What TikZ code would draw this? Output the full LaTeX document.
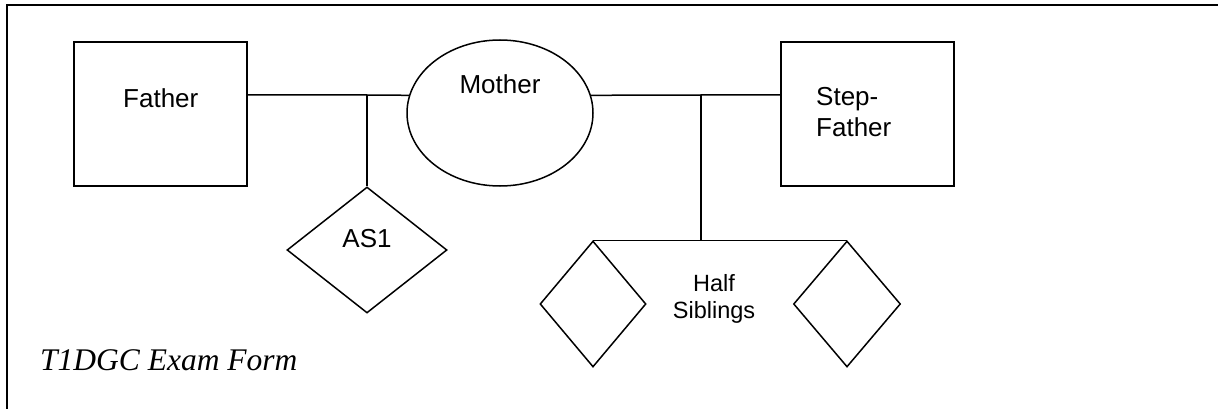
\documentclass[tikz,border=0pt]{standalone}
\usepackage{fontspec}
\usetikzlibrary{shapes.geometric}
\newfontfamily\arialf{Liberation Sans}
\newfontfamily\tnrf{Liberation Serif}
\tikzset{
  ln/.style={line width=1.5pt, draw=black},
  personbox/.style={ln, rectangle, inner sep=0pt, minimum width=173pt, minimum height=144pt},
  femaleshape/.style={ln, ellipse, inner sep=0pt, minimum width=186pt, minimum height=146pt},
  sibshape/.style={ln, diamond, inner sep=0pt},
  lbl/.style={inner sep=0pt, font=\arialf\fontsize{26}{31}\selectfont},
  slbl/.style={inner sep=0pt, font=\arialf\fontsize{23.5}{27}\selectfont},
}
\begin{document}
\begin{tikzpicture}[x=1pt, y=-1pt]
\useasboundingbox (0,0) rectangle (1218,409);
% frame
\coordinate (fbl) at (7,409);
\coordinate (ftl) at (7,5);
\coordinate (ftr) at (1218,5);
\draw[ln] (fbl) -- (ftl) -- (ftr);
% shapes
\node[personbox] (F) at (160.5,114) {};
\node[personbox] (SF) at (867.5,114) {};
\node[femaleshape] (M) at (500,113) {};
\node[sibshape, minimum width=160pt, minimum height=126pt] (AS) at (367,250) {};
\node[sibshape, minimum width=106pt, minimum height=126pt] (H1) at (593,304) {};
\node[sibshape, minimum width=107pt, minimum height=126pt] (H2) at (847,304) {};
% junctions
\coordinate (jl) at (367,95);
\coordinate (jr) at (701,95);
\coordinate (jb) at (701,241);
% connectors
\draw[ln] (F.east |- jl) -- (jl) -- (M.169);
\draw[ln] (jl) -- (AS.north);
\draw[ln] (M.11) -- (jr) -- (SF.west |- jr);
\draw[ln] (jr) -- (jb);
\draw[ln] (H1.north) -- (H2.north);
% labels
\node[lbl, anchor=base west] (tF) at (123,108) {Father};
\node[lbl, anchor=base] (tM) at (500,94) {Mother};
\node[lbl, anchor=base] (tAS) at (367,247) {AS1};
\node[lbl, anchor=base west] (tS1) at (816,106) {Step-};
\node[lbl, anchor=base west] (tS2) at (816,137) {Father};
\node[slbl, anchor=base] (tH1) at (714,291) {Half};
\node[slbl, anchor=base] (tH2) at (714,318) {Siblings};
\node[inner sep=0pt, anchor=base west, font=\tnrf\itshape\fontsize{31.5}{36}\selectfont] (title) at (40,370) {T1DGC Exam Form};
\end{tikzpicture}
\end{document}
